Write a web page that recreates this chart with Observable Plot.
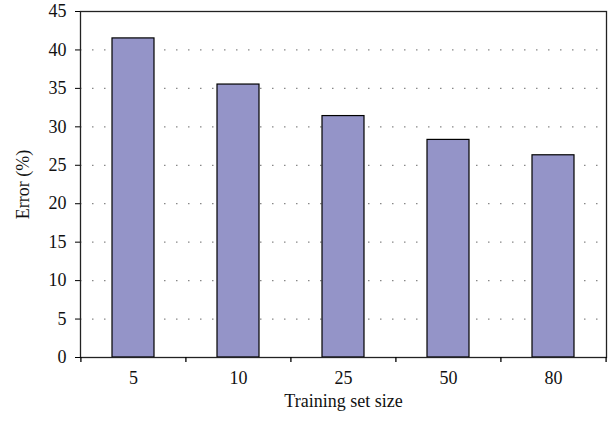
<!DOCTYPE html>
<html>
<head>
<meta charset="utf-8">
<script src="https://cdn.jsdelivr.net/npm/d3@7"></script>
<script src="https://cdn.jsdelivr.net/npm/@observablehq/plot@0.6"></script>
<style>
  body { margin: 0; background: #fff; }
  #chart svg, #chart svg text, #chart svg g { font-family: "Liberation Serif", "DejaVu Serif", serif !important; }
  #chart svg text { font-size: 18px !important; fill: #111; }
</style>
</head>
<body>
<div id="chart"></div>
<script>
const sizes = ["5", "10", "25", "50", "80"];
const errors = [41.5, 35.5, 31.4, 28.3, 26.3];
const yTicks = [0, 5, 10, 15, 20, 25, 30, 35, 40, 45];
const xLabel = "Training set size";
const yLabel = "Error (%)";

const data = sizes.map((s, i) => ({size: s, error: errors[i]}));

const W = 609, H = 425, ML = 80, MR = 3, MT = 11, MB = 68;
const step = (W - ML - MR) / sizes.length;

const chart = Plot.plot({
  width: W,
  height: H,
  marginLeft: ML,
  marginRight: MR,
  marginTop: MT,
  marginBottom: MB,
  style: "font-family: 'Liberation Serif', serif; font-size: 18px; background: #fff;",
  x: {domain: sizes, paddingInner: 0.6, paddingOuter: 0.3},
  y: {domain: [0, 45]},
  marks: [
    Plot.gridY(yTicks.slice(1, -1), {stroke: "#888", strokeOpacity: 1, strokeDasharray: "1.5,10.5", strokeWidth: 1.2}),
    Plot.barY(data, {x: "size", y: "error", fill: "#9494c8", stroke: "#000", strokeWidth: 1.2}),
    Plot.frame({stroke: "#222", strokeWidth: 1.3}),
    Plot.axisY(yTicks, {tickSize: 5, tickPadding: 9, label: yLabel, labelAnchor: "center", labelArrow: "none", labelOffset: 64}),
    Plot.axisX({tickSize: 0, tickPadding: 14, label: xLabel, labelAnchor: "center", labelArrow: "none", labelOffset: 49}),
    Plot.axisX({tickSize: 5, tickFormat: () => "", label: null, dx: -step / 2, strokeWidth: 1.3}),
    Plot.axisX([sizes[sizes.length - 1]], {tickSize: 5, tickFormat: () => "", label: null, dx: step / 2, strokeWidth: 1.3})
  ]
});
document.getElementById("chart").appendChild(chart);
</script>
</body>
</html>
